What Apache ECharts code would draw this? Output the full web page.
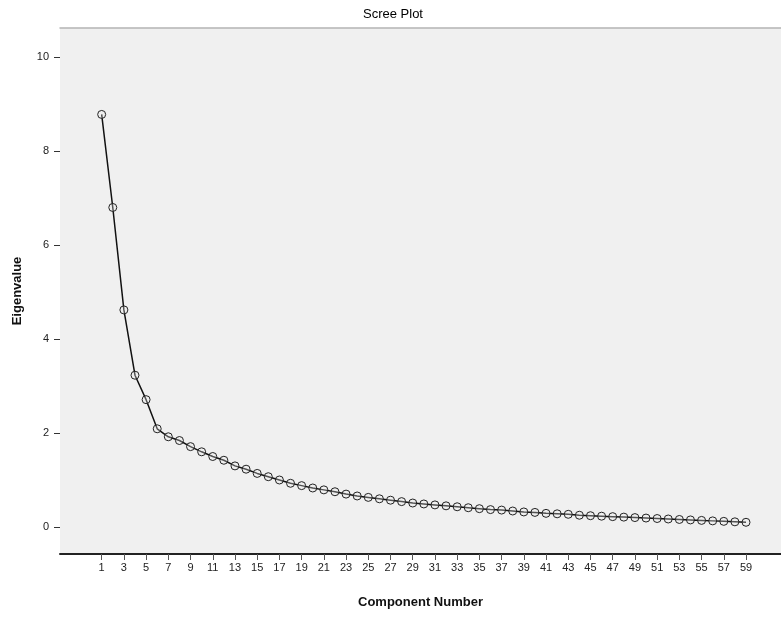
<!DOCTYPE html>
<html>
<head>
<meta charset="utf-8">
<script src="https://cdn.jsdelivr.net/npm/echarts@6/dist/echarts.min.js"></script>
<style>html,body{margin:0;padding:0;background:#fff;}#c{width:781px;height:618px;}</style>
</head>
<body>
<div id="c"></div>
<script>
var components = [];
for (var i = 1; i <= 59; i++) components.push(i);
var eigenvalues = [8.78, 6.80, 4.62, 3.23, 2.71, 2.09, 1.92, 1.84, 1.71, 1.60,
  1.50, 1.42, 1.30, 1.23, 1.14, 1.07, 1.00, 0.93, 0.88, 0.83,
  0.79, 0.75, 0.70, 0.66, 0.63, 0.60, 0.57, 0.54, 0.51, 0.49,
  0.47, 0.45, 0.43, 0.41, 0.39, 0.37, 0.36, 0.34, 0.32, 0.31,
  0.29, 0.28, 0.27, 0.25, 0.24, 0.23, 0.22, 0.21, 0.20, 0.19,
  0.18, 0.17, 0.16, 0.15, 0.14, 0.13, 0.12, 0.11, 0.10];
var xTickLabels = [1,3,5,7,9,11,13,15,17,19,21,23,25,27,29,31,33,35,37,39,41,43,45,47,49,51,53,55,57,59];
var yTickLabels = [0, 2, 4, 6, 8, 10];

var points = components.map(function (c, i) { return [c, eigenvalues[i]]; });

var chart = echarts.init(document.getElementById('c'), null, {renderer: 'canvas'});
chart.setOption({
  backgroundColor: '#ffffff',
  animation: false,
  title: {
    text: 'Scree Plot',
    left: 388, top: 3, textAlign: 'center',
    textStyle: {fontFamily: 'Liberation Sans, Arial', fontSize: 13, fontWeight: 'normal', color: '#000'}
  },
  grid: {
    left: 60, right: 0, top: 28, bottom: 64,
    outerBoundsMode: 'none',
    containLabel: false,
    show: true, backgroundColor: '#f0f0f0', borderWidth: 0
  },
  xAxis: [{
    type: 'value',
    min: -2.75, max: 62.15,
    name: 'Component Number',
    nameLocation: 'middle',
    nameGap: 42,
    nameTextStyle: {fontFamily: 'Liberation Sans, Arial', fontSize: 13, fontWeight: 'bold', color: '#111'},
    axisLine: {show: true, onZero: false, lineStyle: {color: '#222', width: 2}},
    axisTick: {show: true, length: 6, customValues: xTickLabels, lineStyle: {color: '#555', width: 1}},
    axisLabel: {customValues: xTickLabels, fontFamily: 'Liberation Sans, Arial', fontSize: 11, color: '#222', margin: 8},
    splitLine: {show: false}
  }, {
    type: 'value', position: 'top', min: 0, max: 1,
    axisLine: {show: true, onZero: false, lineStyle: {color: '#b4b4b4', width: 1.5}},
    axisTick: {show: false}, axisLabel: {show: false}, splitLine: {show: false}
  }],
  yAxis: {
    type: 'value',
    min: -0.575, max: 10.62,
    name: 'Eigenvalue',
    nameLocation: 'middle',
    nameGap: 36,
    nameRotate: 90,
    nameTextStyle: {fontFamily: 'Liberation Sans, Arial', fontSize: 13, fontWeight: 'bold', color: '#111'},
    axisLine: {show: false, onZero: false},
    axisTick: {show: true, length: 6, customValues: yTickLabels, lineStyle: {color: '#333', width: 1}},
    axisLabel: {customValues: yTickLabels, fontFamily: 'Liberation Sans, Arial', fontSize: 11, color: '#222', margin: 11},
    splitLine: {show: false}
  },
  series: [{
    type: 'line',
    xAxisIndex: 0,
    data: points,
    symbol: 'circle',
    symbolSize: 8,
    showSymbol: true,
    lineStyle: {color: '#111', width: 1.5},
    itemStyle: {color: 'rgba(240,240,240,0.3)', borderColor: '#222', borderWidth: 1},
    z: 3
  }]
});
</script>
</body>
</html>
